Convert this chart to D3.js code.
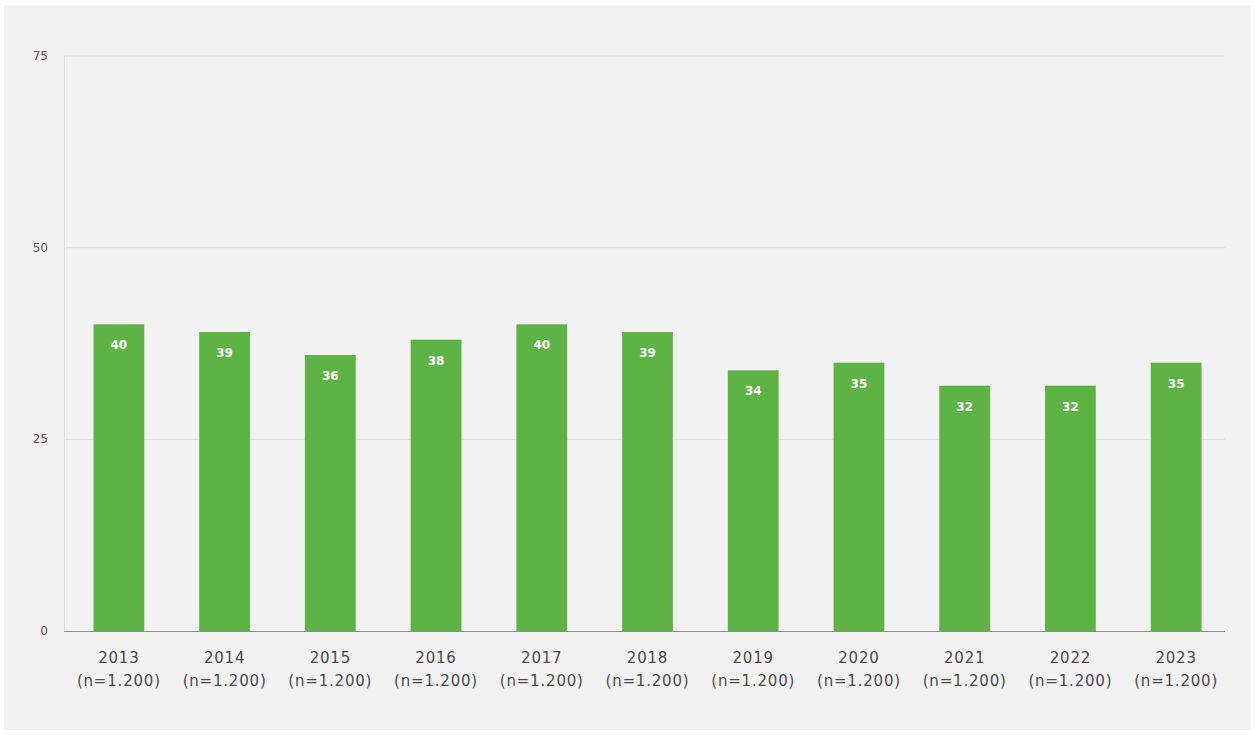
<!DOCTYPE html>
<html>
<head>
<meta charset="utf-8">
<script src="https://cdn.jsdelivr.net/npm/d3@7"></script>
<style>
  body { margin: 0; background: #ffffff; }
  svg { display: block; }
</style>
</head>
<body>
<script>
var years = ["2013", "2014", "2015", "2016", "2017", "2018", "2019", "2020", "2021", "2022", "2023"];
var sampleLabels = ["(n=1.200)", "(n=1.200)", "(n=1.200)", "(n=1.200)", "(n=1.200)", "(n=1.200)", "(n=1.200)", "(n=1.200)", "(n=1.200)", "(n=1.200)", "(n=1.200)"];
var values = [40, 39, 36, 38, 40, 39, 34, 35, 32, 32, 35];
var yTicks = [0, 25, 50, 75];

function main(){
  var width = 1255, height = 735;

  var svg = d3.select("body").append("svg")
    .attr("width", width)
    .attr("height", height);

  // panel background
  svg.append("rect")
    .attr("x", 4).attr("y", 5)
    .attr("width", width - 8).attr("height", height - 10)
    .attr("fill", "#f2f2f2");

  var x = d3.scaleBand()
    .domain(years)
    .range([66, 1229])
    .paddingInner(0.52)
    .paddingOuter(0.26);

  var y = d3.scaleLinear()
    .domain([0, 75])
    .range([631, 56]);

  // gridlines
  svg.append("g")
    .selectAll("line")
    .data(yTicks.filter(d => d > 0))
    .enter().append("line")
    .attr("x1", 64).attr("x2", 1225)
    .attr("y1", d => y(d)).attr("y2", d => y(d))
    .attr("stroke", "#dedede")
    .attr("stroke-width", 1);

  // y axis line
  svg.append("line")
    .attr("x1", 64.5).attr("x2", 64.5)
    .attr("y1", y(75)).attr("y2", y(0))
    .attr("stroke", "#dcdcdc");

  // y tick labels
  svg.append("g")
    .selectAll("text")
    .data(yTicks)
    .enter().append("text")
    .attr("x", 48)
    .attr("y", d => y(d) + 4)
    .attr("text-anchor", "end")
    .attr("font-family", "DejaVu Sans, sans-serif")
    .attr("font-size", 12)
    .attr("fill", "#555")
    .text(d => d);

  var bar = svg.append("g")
    .selectAll("g")
    .data(values)
    .enter().append("g");

  bar.append("rect")
    .attr("x", (d, i) => x(years[i]))
    .attr("y", d => y(d))
    .attr("width", x.bandwidth())
    .attr("height", d => y(0) - y(d))
    .attr("fill", "#5db444");

  bar.append("text")
    .attr("x", (d, i) => x(years[i]) + x.bandwidth() / 2)
    .attr("y", d => y(d) + 25)
    .attr("text-anchor", "middle")
    .attr("font-family", "DejaVu Sans, sans-serif")
    .attr("font-size", 12)
    .attr("font-weight", "bold")
    .attr("fill", "#ffffff")
    .text(d => d);

  // baseline
  svg.append("line")
    .attr("x1", 64).attr("x2", 1225)
    .attr("y1", y(0) + 0.5).attr("y2", y(0) + 0.5)
    .attr("stroke", "#8c8c8c");

  // x labels
  var xl = svg.append("g")
    .selectAll("text")
    .data(years)
    .enter().append("text")
    .attr("text-anchor", "middle")
    .attr("font-family", "DejaVu Sans, sans-serif")
    .attr("font-size", 15)
    .attr("letter-spacing", 0.8)
    .attr("fill", "#4a4a4a");

  xl.append("tspan")
    .attr("x", d => x(d) + x.bandwidth() / 2)
    .attr("y", 663)
    .text(d => d);

  xl.append("tspan")
    .attr("x", d => x(d) + x.bandwidth() / 2)
    .attr("y", 686)
    .text((d, i) => sampleLabels[i]);
}

main();
</script>
</body>
</html>
